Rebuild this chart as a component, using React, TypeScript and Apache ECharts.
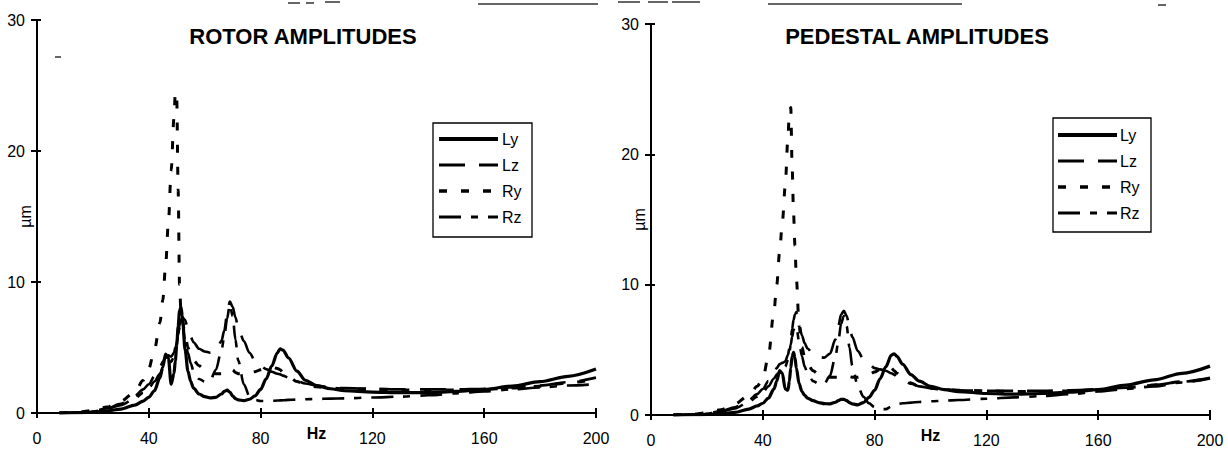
import React, { useEffect, useRef } from "react";
import * as echarts from "echarts";

// ---------- data ----------
const freq = [
  8, 15, 20, 25, 30,
  35, 38, 40, 42, 44,
  45, 46, 47, 48, 49,
  49.5, 50, 50.5, 51, 51.5,
  52, 53, 54, 55, 56,
  58, 60, 62, 64, 66,
  67, 68, 69, 70, 71,
  72, 74, 76, 78, 80,
  82, 84, 86, 87, 88,
  90, 93, 96, 100, 105,
  110, 120, 130, 140, 150,
  160, 170, 180, 190, 200,
];

const seriesNames = ["Ly", "Lz", "Ry", "Rz"];
const xTicks = [0, 40, 80, 120, 160, 200];
const yTicks = [0, 10, 20, 30];
const chartTitles = ["ROTOR AMPLITUDES", "PEDESTAL AMPLITUDES"];

const rotorLy = [
  0, 0.02, 0.07, 0.15, 0.3,
  0.6, 0.9, 1.2, 1.7, 2.7,
  3.5, 4.5, 4.2, 2.2, 3.0,
  4.0, 5.2, 6.6, 7.8, 8.1,
  7.4, 4.8, 3.2, 2.4, 1.9,
  1.45, 1.25, 1.15, 1.2, 1.45,
  1.65, 1.75, 1.6, 1.3, 1.1,
  1.0, 0.95, 1.05, 1.3, 1.8,
  2.6, 3.6, 4.6, 4.9, 4.8,
  4.2, 3.2, 2.5, 2.1, 1.85,
  1.7, 1.6, 1.55, 1.55, 1.65,
  1.8, 2.05, 2.4, 2.8, 3.35,
];
const rotorLz = [
  0, 0.05, 0.15, 0.35, 0.7,
  1.3, 1.8, 2.2, 2.8, 3.5,
  3.9, 4.2, 4.4, 4.3, 4.6,
  5.0, 5.5, 6.1, 6.7, 7.1,
  7.3, 7.1, 6.4, 5.8, 5.4,
  4.9, 4.7, 4.6, 4.75, 5.5,
  6.3, 7.5, 8.5, 8.1, 7.3,
  6.5, 5.5, 4.6, 4.0, 3.6,
  3.35, 3.15, 3.0, 2.95, 2.85,
  2.7, 2.45, 2.25, 2.1, 1.95,
  1.9, 1.85, 1.8, 1.8, 1.8,
  1.85, 1.95, 2.1, 2.35, 2.7,
];
const rotorRy = [
  0, 0.07, 0.2, 0.45, 0.9,
  1.6, 2.5, 3.4, 4.8, 6.9,
  8.6, 11.2, 14.5, 18.5, 22.5,
  24.5, 24.0, 17.0, 9.8, 7.8,
  7.0, 6.0, 5.0, 4.4, 4.0,
  3.6, 3.3, 3.1, 3.0, 3.0,
  3.1, 3.3, 3.4, 3.3, 3.1,
  3.0, 3.0, 3.05, 3.15, 3.3,
  3.45, 3.5, 3.4, 3.3, 3.1,
  2.8, 2.4, 2.15, 2.0, 1.9,
  1.85, 1.8, 1.75, 1.75, 1.75,
  1.8, 1.9, 2.05, 2.3, 2.6,
];
const rotorRz = [
  0, 0.04, 0.12, 0.3, 0.6,
  1.1, 1.55, 1.9, 2.4, 3.0,
  3.4, 3.8, 4.0, 3.9, 4.3,
  4.8, 5.4, 6.0, 6.5, 6.7,
  6.6, 5.6, 4.6, 3.8, 3.2,
  2.6, 2.4, 2.5, 3.3, 4.8,
  5.8, 7.2, 8.3, 7.4, 5.6,
  4.0, 2.2, 1.3, 1.0, 0.92,
  0.92, 0.93, 0.95, 0.96, 0.97,
  1.0, 1.02, 1.05, 1.07, 1.1,
  1.12, 1.18, 1.25, 1.35, 1.5,
  1.65, 1.8, 1.95, 2.1, 2.2,
];

const pedLy = [
  0, 0.02, 0.05, 0.1, 0.2,
  0.45, 0.7, 0.9, 1.3, 2.0,
  2.6, 3.4, 3.2, 2.0, 1.9,
  2.6, 3.6, 4.5, 4.8, 4.4,
  3.6, 2.4, 1.8, 1.5, 1.3,
  1.1, 0.95, 0.88, 0.85, 0.98,
  1.1, 1.2, 1.2, 1.1, 0.95,
  0.85, 0.78, 0.95, 1.35, 1.9,
  2.8, 3.7, 4.6, 4.7, 4.5,
  3.9, 3.1, 2.6, 2.2, 1.95,
  1.8, 1.65, 1.6, 1.65, 1.75,
  1.95, 2.3, 2.7, 3.2, 3.75,
];
const pedLz = [
  0, 0.04, 0.12, 0.3, 0.6,
  1.15, 1.6, 2.0, 2.6, 3.3,
  3.6, 3.9, 4.0, 4.1, 4.6,
  5.1, 5.8, 6.6, 7.3, 7.7,
  7.9, 7.0, 6.1, 5.5, 5.1,
  4.7, 4.45, 4.4, 4.7, 5.8,
  6.8, 7.7, 8.0, 7.6, 6.8,
  6.0, 4.9, 4.3, 3.9, 3.6,
  3.5, 3.4, 3.2, 3.1, 2.95,
  2.7, 2.4, 2.2, 2.05, 1.95,
  1.9, 1.85, 1.85, 1.85, 1.9,
  1.95, 2.1, 2.3, 2.55, 2.85,
];
const pedRy = [
  0, 0.06, 0.18, 0.4, 0.85,
  1.5, 2.2, 2.8, 4.5, 8.0,
  10.0, 12.5, 14.8, 17.5, 21.3,
  23.3, 23.6, 19.0, 15.5, 13.0,
  10.5, 6.8, 5.2, 4.4, 3.9,
  3.4, 3.1, 2.95, 2.9, 2.9,
  2.9, 2.95, 3.0, 3.0, 2.95,
  2.9, 2.9, 3.0, 3.1, 3.3,
  3.5, 3.7, 3.6, 3.4, 3.2,
  2.85, 2.45, 2.2, 2.05, 1.95,
  1.9, 1.85, 1.8, 1.8, 1.85,
  1.95, 2.1, 2.3, 2.55, 2.8,
];
const pedRz = [
  0, 0.04, 0.1, 0.25, 0.5,
  1.0, 1.4, 1.75, 2.2, 2.8,
  3.1, 3.4, 3.6, 3.7, 4.2,
  4.8, 5.4, 6.0, 6.5, 6.8,
  6.8, 5.6, 4.5, 3.7, 3.2,
  2.6, 2.4, 2.4, 3.0, 4.5,
  5.6, 7.0, 7.6, 6.8, 5.2,
  3.8, 2.2, 1.4, 0.9, 0.6,
  0.45, 0.45, 0.65, 0.75, 0.82,
  0.9, 0.95, 1.0, 1.05, 1.1,
  1.15, 1.25, 1.35, 1.45, 1.6,
  1.8, 2.0, 2.2, 2.5, 2.8,
];

const rotorData = [rotorLy, rotorLz, rotorRy, rotorRz];
const pedData = [pedLy, pedLz, pedRy, pedRz];

// ---------- styles ----------
const FONT = "'Liberation Sans', Arial, Helvetica, sans-serif";
const INK = "#000";
const lineStyles: Record<string, { width: number; dash: number[] | "solid" }> = {
  Ly: { width: 3.2, dash: "solid" },
  Lz: { width: 2.6, dash: [26, 14] },
  Ry: { width: 3, dash: [8, 14] },
  Rz: { width: 2.6, dash: [22, 10, 7, 10] },
};

const grids = [
  { left: 37, top: 20, width: 559, height: 393 },
  { left: 651, top: 24, width: 559, height: 391 },
];

const titlePos = [
  { x: 303, y: 25 },
  { x: 917, y: 25 },
];

const legendBoxes = [
  { x: 433, y: 123, w: 99, h: 114, lineX1: 439, lineX2: 498, textX: 502, rowY: [139, 165, 191, 217] },
  { x: 1053, y: 118, w: 98, h: 114, lineX1: 1058, lineX2: 1117, textX: 1120, rowY: [135, 161, 187, 213] },
];

function buildOption() {
  const xAxis: any[] = [];
  const yAxis: any[] = [];
  grids.forEach((_, gi) => {
    xAxis.push({
      type: "value",
      gridIndex: gi,
      min: xTicks[0],
      max: xTicks[xTicks.length - 1],
      interval: xTicks[1] - xTicks[0],
      position: "bottom",
      axisLine: { show: true, onZero: false, lineStyle: { color: INK, width: 2 } },
      axisTick: { show: true, length: 5, lineStyle: { color: INK, width: 2 } },
      axisLabel: { margin: 17, fontSize: 16, color: INK, fontFamily: FONT, showMinLabel: true, showMaxLabel: true },
      splitLine: { show: false },
      name: "Hz",
      nameLocation: "middle",
      nameGap: 12,
      nameMoveOverlap: false,
      nameTextStyle: { fontSize: 16, fontWeight: "bold", color: INK, fontFamily: FONT },
    });
    xAxis.push({
      type: "value",
      gridIndex: gi,
      min: xTicks[0],
      max: xTicks[xTicks.length - 1],
      interval: xTicks[1] - xTicks[0],
      position: "bottom",
      axisLine: { show: false, onZero: false },
      axisTick: { show: true, inside: true, length: 5, lineStyle: { color: INK, width: 2 } },
      axisLabel: { show: false },
      splitLine: { show: false },
    });
    yAxis.push({
      type: "value",
      gridIndex: gi,
      min: yTicks[0],
      max: yTicks[yTicks.length - 1],
      interval: yTicks[1] - yTicks[0],
      position: "left",
      axisLine: { show: true, onZero: false, lineStyle: { color: INK, width: 2 } },
      axisTick: { show: true, length: 6, lineStyle: { color: INK, width: 2 } },
      axisLabel: { margin: 12, fontSize: 16, color: INK, fontFamily: FONT },
      splitLine: { show: false },
      name: "µm",
      nameLocation: "middle",
      nameGap: 4,
      nameRotate: 90,
      nameMoveOverlap: false,
      nameTextStyle: { fontSize: 16, color: INK, fontFamily: FONT },
    });
    yAxis.push({
      type: "value",
      gridIndex: gi,
      min: yTicks[0],
      max: yTicks[yTicks.length - 1],
      interval: yTicks[1] - yTicks[0],
      position: "left",
      axisLine: { show: false, onZero: false },
      axisTick: { show: true, inside: true, length: 4, lineStyle: { color: INK, width: 2 } },
      axisLabel: { show: false },
      splitLine: { show: false },
    });
  });

  const series: any[] = [];
  [rotorData, pedData].forEach((set, gi) => {
    set.forEach((vals, si) => {
      const name = seriesNames[si];
      const st = lineStyles[name];
      series.push({
        type: "line",
        name,
        xAxisIndex: gi * 2,
        yAxisIndex: gi * 2,
        data: freq.map((f, i) => [f, vals[i]]),
        showSymbol: false,
        symbol: "none",
        smooth: 0.3,
        smoothMonotone: "x",
        silent: true,
        lineStyle: { color: INK, width: st.width, type: st.dash, cap: "butt" },
      });
    });
  });

  const graphic: any[] = [];
  legendBoxes.forEach((lb) => {
    graphic.push({
      type: "rect",
      z: 100,
      shape: { x: lb.x, y: lb.y, width: lb.w, height: lb.h },
      style: { fill: "#fff", stroke: INK, lineWidth: 1.3 },
    });
    seriesNames.forEach((name, i) => {
      const st = lineStyles[name];
      graphic.push({
        type: "line",
        z: 101,
        shape: { x1: lb.lineX1, y1: lb.rowY[i], x2: lb.lineX2, y2: lb.rowY[i] },
        style: {
          stroke: INK,
          lineWidth: st.width + 0.6,
          lineDash: st.dash === "solid" ? null : st.dash,
        },
      });
      graphic.push({
        type: "text",
        z: 101,
        x: lb.textX,
        y: lb.rowY[i],
        style: {
          text: name,
          fontSize: 16,
          fontFamily: FONT,
          fill: INK,
          align: "left",
          verticalAlign: "middle",
        },
      });
    });
  });

  // faint scan artefacts along the top edge
  const marks = [
    [288, 3, 300, 3], [306, 3, 314, 3], [325, 2, 340, 2], [478, 4, 598, 4],
    [55, 57, 61, 57], [618, 2, 640, 2], [648, 2, 668, 2], [672, 2, 700, 2],
    [768, 4, 962, 4], [1158, 5, 1166, 5],
  ];
  marks.forEach(([x1, y1, x2, y2]) => {
    graphic.push({
      type: "line",
      z: 50,
      shape: { x1, y1, x2, y2 },
      style: { stroke: "#333", lineWidth: 1.5 },
    });
  });

  return {
    animation: false,
    backgroundColor: "#fff",
    grid: grids.map((g) => ({ ...g, containLabel: false, outerBoundsMode: "none" })),
    title: chartTitles.map((t, i) => ({
      text: t,
      left: titlePos[i].x,
      top: titlePos[i].y,
      textAlign: "center",
      padding: 0,
      textStyle: { fontSize: 22, fontWeight: "bold", color: INK, fontFamily: FONT },
    })),
    xAxis,
    yAxis,
    series,
    graphic,
  };
}

export default function App() {
  const ref = useRef<HTMLDivElement>(null);
  useEffect(() => {
    document.body.style.margin = "0";
    const chart = echarts.init(ref.current as HTMLDivElement, null, { renderer: "svg" });
    chart.setOption(buildOption() as any);
    return () => {
      chart.dispose();
    };
  }, []);
  return <div ref={ref} style={{ width: 1228, height: 451, background: "#fff" }} />;
}
